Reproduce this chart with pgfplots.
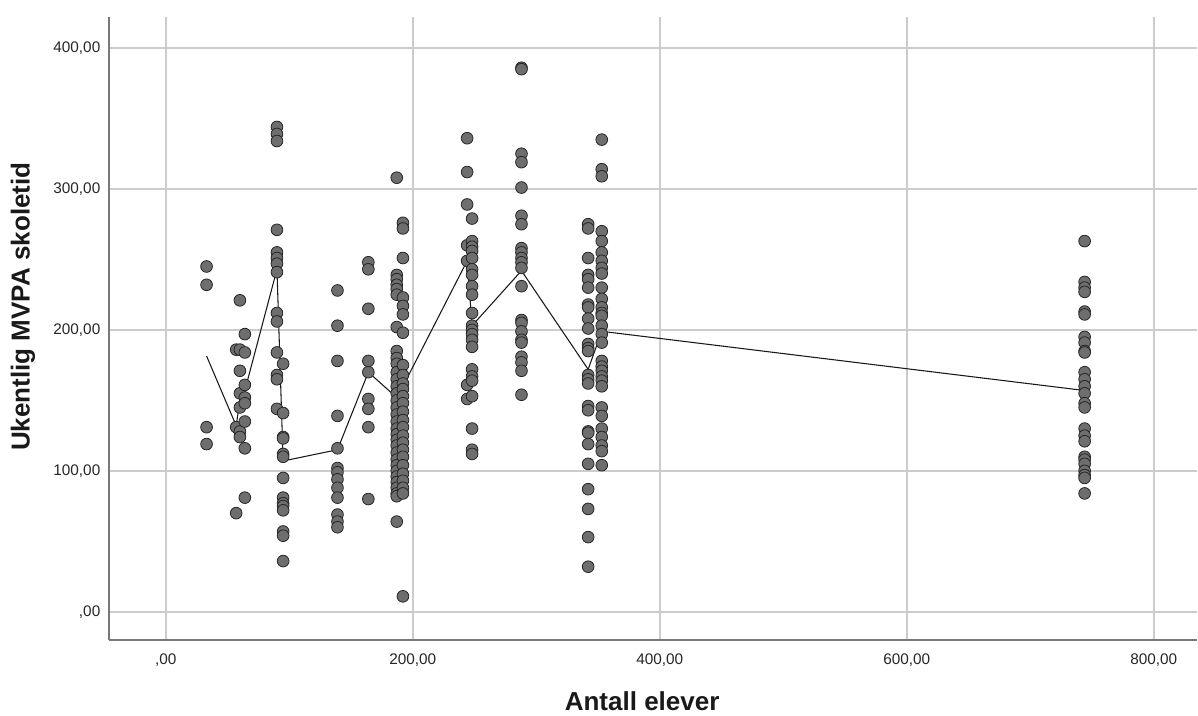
\documentclass[border=0pt]{standalone}
\usepackage{fontspec}
\setmainfont{Liberation Sans}
\usepackage{pgfplots}
\usepackage{pgfplotstable}
\pgfplotsset{compat=1.18}
\definecolor{dotfill}{RGB}{110,110,110}
\definecolor{gridc}{RGB}{204,204,204}
\definecolor{axisc}{RGB}{120,120,120}

\pgfplotstableread{
x y
33 245
33 232
33 131
33 119
57 186
57 131
57 70
60 221
60 186
60 171
60 155
60 145
60 128
60 124
64 197
64 184
64 161
64 152
64 148
64 135
64 116
64 81
90 344
90 339
90 334
90 271
90 255
90 251
90 247
90 241
90 212
90 206
90 184
90 168
90 165
90 144
95 176
95 141
95 124
95 123
95 112
95 110
95 95
95 81
95 77
95 75
95 72
95 57
95 54
95 36
139 228
139 203
139 178
139 139
139 116
139 102
139 99
139 94
139 88
139 81
139 69
139 64
139 60
164 248
164 243
164 215
164 178
164 170
164 151
164 144
164 131
164 80
187 308
187 239
187 236
187 232
187 229
187 225
187 202
187 185
187 180
187 176
187 170
187 165
187 160
187 155
187 150
187 145
187 140
187 135
187 130
187 126
187 122
187 118
187 113
187 108
187 104
187 100
187 96
187 92
187 88
187 84
187 82
187 64
192 276
192 272
192 251
192 223
192 217
192 211
192 198
192 175
192 168
192 162
192 158
192 153
192 148
192 142
192 136
192 131
192 125
192 120
192 115
192 110
192 104
192 98
192 93
192 88
192 84
192 11
244 336
244 312
244 289
244 260
244 249
244 161
244 151
248 279
248 263
248 259
248 256
248 251
248 243
248 239
248 231
248 225
248 212
248 203
248 200
248 197
248 193
248 188
248 172
248 167
248 164
248 153
248 130
248 115
248 112
288 386
288 385
288 325
288 319
288 301
288 281
288 275
288 258
288 255
288 251
288 248
288 244
288 231
288 207
288 205
288 199
288 193
288 191
288 181
288 177
288 171
288 154
342 275
342 272
342 251
342 239
342 236
342 230
342 218
342 216
342 208
342 201
342 190
342 187
342 185
342 168
342 165
342 162
342 146
342 143
342 128
342 127
342 119
342 105
342 87
342 73
342 53
342 32
353 335
353 314
353 309
353 270
353 263
353 255
353 249
353 244
353 240
353 230
353 222
353 216
353 212
353 210
353 203
353 197
353 191
353 178
353 174
353 171
353 167
353 164
353 160
353 145
353 139
353 130
353 124
353 118
353 114
353 104
744 263
744 234
744 230
744 227
744 213
744 211
744 195
744 191
744 185
744 184
744 170
744 165
744 160
744 155
744 148
744 145
744 130
744 125
744 121
744 110
744 108
744 105
744 100
744 97
744 95
744 84
}\points

\pgfplotstableread{
x y
33 181.5
57 132
60 150
64 157
90 243
95 107
139 115
164 170
187 152
192 160
244 249
248 203
288 242
342 172
353 199
744 157
}\meanline

\begin{document}
\begin{tikzpicture}
\useasboundingbox (-81.75pt,-56.25pt) rectangle (816.75pt,480pt);
\begin{axis}[
  at={(0,0)}, anchor=south west,
  scale only axis, width=816pt, height=467.25pt,
  xmin=-46, xmax=835, ymin=-20, ymax=422,
  axis x line=bottom, axis y line=left,
  axis line style={-, draw=axisc, line width=1.4pt},
  xtick={0,200,400,600,800},
  xticklabels={{,00},{200,00},{400,00},{600,00},{800,00}},
  ytick={0,100,200,300,400},
  yticklabels={{,00},{100,00},{200,00},{300,00},{400,00}},
  major tick length=0pt,
  grid=major,
  major grid style={draw=gridc, line width=1.1pt},
  tick label style={font=\fontsize{11.5}{13}\selectfont, text=black!85},
  xticklabel style={yshift=-7pt},
  yticklabel style={xshift=-3pt},
  xlabel={Antall elever},
  ylabel={Ukentlig MVPA skoletid},
  label style={font=\bfseries\fontsize{19.5}{23}\selectfont, text=black!90, inner sep=0pt},
  xlabel style={at={(axis description cs:0.49,-0.098)}, anchor=center},
  ylabel style={at={(axis description cs:-0.079,0.535)}, anchor=center},
  clip=false,
]
\addplot[only marks, mark=*, mark size=4.4pt,
  mark options={fill=dotfill, draw=black!85, line width=0.6pt}] table[x=x, y=y] {\points};
\addplot[no marks, draw=black!90, line width=0.8pt] table[x=x, y=y] {\meanline};
\end{axis}
\end{tikzpicture}
\end{document}
